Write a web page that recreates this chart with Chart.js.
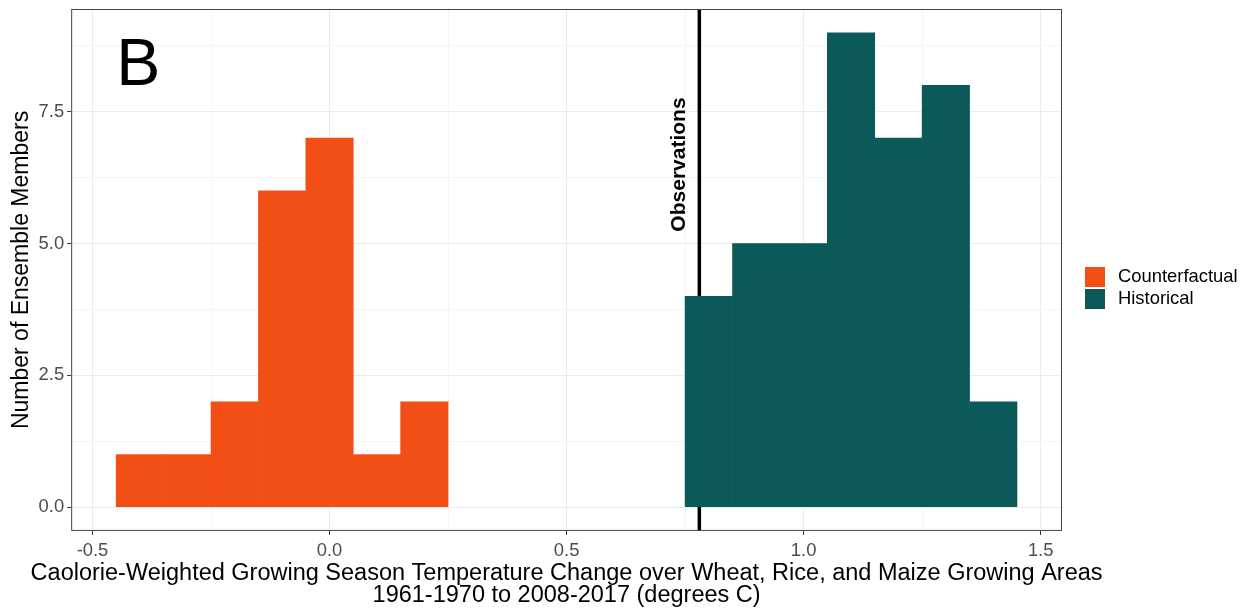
<!DOCTYPE html>
<html>
<head>
<meta charset="utf-8">
<script src="https://cdn.jsdelivr.net/npm/chart.js@4.4.0/dist/chart.umd.min.js"></script>
<style>
  html, body { margin: 0; padding: 0; background: #fff; }
  #wrap { width: 1247px; height: 612px; }
</style>
</head>
<body>
<div id="wrap"><canvas id="chart" width="1247" height="612"></canvas></div>
<script>
// bin centres (width 0.1) and member counts
const counterfactualBins = [-0.4, -0.3, -0.2, -0.1, 0.0, 0.1, 0.2];
const counterfactualCounts = [1, 1, 2, 6, 7, 1, 2];
const historicalBins = [0.8, 0.9, 1.0, 1.1, 1.2, 1.3, 1.4];
const historicalCounts = [4, 5, 5, 9, 7, 8, 2];
const observedChange = 0.78;

const xTicks = [-0.5, -0.25, 0, 0.25, 0.5, 0.75, 1.0, 1.25, 1.5];
const yTicks = [0, 1.25, 2.5, 3.75, 5, 6.25, 7.5, 8.75];
const xRange = [-0.545, 1.545];
const yRange = [-0.45, 9.45];

const seriesNames = ['Counterfactual', 'Historical'];
const seriesColors = ['#F24F17', '#0B5958'];
const xTitle = ['Caolorie-Weighted Growing Season Temperature Change over Wheat, Rice, and Maize Growing Areas',
                '1961-1970 to 2008-2017 (degrees C)'];

const font = '"Liberation Sans", Arial, sans-serif';

// major ticks are multiples of step, the rest are minor grid lines only
const onStep = (v, step) => Math.abs(v / step - Math.round(v / step)) < 1e-6;
const gridColor = step => ctx => (ctx.tick && onStep(ctx.tick.value, step) ? '#ebebeb' : '#f5f5f5');
const tickColor = step => ctx => (ctx.tick && onStep(ctx.tick.value, step) ? '#333' : 'rgba(0,0,0,0)');

const toPoints = (xs, ys) => xs.map((x, i) => ({ x: x, y: ys[i] }));

// panel border, "B" tag, Observations label, x title (wider than the axis) and legend
const decorations = {
  id: 'decorations',
  afterDatasetsDraw(chart) {
    const { ctx, chartArea, scales } = chart;
    ctx.save();
    ctx.strokeStyle = '#444';
    ctx.lineWidth = 1;
    ctx.strokeRect(chartArea.left + 0.5, chartArea.top + 0.5,
      chartArea.right - chartArea.left - 1, chartArea.bottom - chartArea.top - 1);

    ctx.fillStyle = '#000';
    ctx.font = '66px ' + font;
    ctx.textAlign = 'left';
    ctx.textBaseline = 'alphabetic';
    ctx.fillText('B', scales.x.getPixelForValue(-0.45), scales.y.getPixelForValue(8.0));

    ctx.save();
    ctx.translate(scales.x.getPixelForValue(observedChange) - 14, scales.y.getPixelForValue(6.5));
    ctx.rotate(-Math.PI / 2);
    ctx.font = 'bold 21px ' + font;
    ctx.textAlign = 'center';
    ctx.fillText('Observations', 0, 0);
    ctx.restore();

    // x axis title
    ctx.font = '23.5px ' + font;
    ctx.textAlign = 'center';
    ctx.textBaseline = 'middle';
    const cx = (chartArea.left + chartArea.right) / 2;
    xTitle.forEach((line, i) => ctx.fillText(line, cx, chartArea.bottom + 43 + i * 22));

    // legend
    const lx = chartArea.right + 23;
    const ly = chartArea.top + 258;
    ctx.font = '18.4px ' + font;
    ctx.textAlign = 'left';
    seriesNames.forEach((name, i) => {
      const y = ly + i * 22;
      ctx.fillStyle = seriesColors[i];
      ctx.fillRect(lx, y, 20, 20);
      ctx.fillStyle = '#000';
      ctx.fillText(name, lx + 33, y + 10);
    });
    ctx.restore();
  }
};

new Chart(document.getElementById('chart'), {
  type: 'bar',
  data: {
    datasets: [
      {
        label: seriesNames[0],
        data: toPoints(counterfactualBins, counterfactualCounts),
        backgroundColor: seriesColors[0],
        barPercentage: 1,
        categoryPercentage: 1,
        grouped: false
      },
      {
        label: seriesNames[1],
        data: toPoints(historicalBins, historicalCounts),
        backgroundColor: seriesColors[1],
        barPercentage: 1,
        categoryPercentage: 1,
        grouped: false
      },
      {
        type: 'line',
        label: 'Observations',
        data: [{ x: observedChange, y: yRange[0] }, { x: observedChange, y: yRange[1] }],
        borderColor: '#000',
        borderWidth: 3.5,
        pointRadius: 0
      }
    ]
  },
  options: {
    responsive: false,
    animation: false,
    layout: { padding: { top: 9, left: 8, right: 185, bottom: 45 } },
    plugins: {
      tooltip: { enabled: false },
      legend: { display: false }
    },
    scales: {
      x: {
        type: 'linear',
        min: xRange[0],
        max: xRange[1],
        offset: false,
        afterBuildTicks: s => { s.ticks = xTicks.map(v => ({ value: v })); },
        ticks: {
          color: '#4d4d4d',
          font: { family: font, size: 18.4 },
          padding: 5,
          autoSkip: false,
          maxRotation: 0,
          callback: v => (onStep(v, 0.5) ? v.toFixed(1) : '')
        },
        grid: { offset: false, color: gridColor(0.5), tickColor: tickColor(0.5), tickLength: 4 },
        border: { display: false },
        title: { display: false }
      },
      y: {
        type: 'linear',
        min: yRange[0],
        max: yRange[1],
        afterBuildTicks: s => { s.ticks = yTicks.map(v => ({ value: v })); },
        afterFit: s => { s.paddingTop = 0; s.paddingBottom = 0; },
        ticks: {
          color: '#4d4d4d',
          font: { family: font, size: 18.4 },
          padding: 3,
          callback: v => (onStep(v, 2.5) ? v.toFixed(1) : '')
        },
        grid: { color: gridColor(2.5), tickColor: tickColor(2.5), tickLength: 4 },
        border: { display: false },
        title: {
          display: true,
          text: 'Number of Ensemble Members',
          color: '#000',
          font: { family: font, size: 23 },
          padding: { top: 0, bottom: 0 }
        }
      }
    }
  },
  plugins: [decorations]
});
</script>
</body>
</html>
